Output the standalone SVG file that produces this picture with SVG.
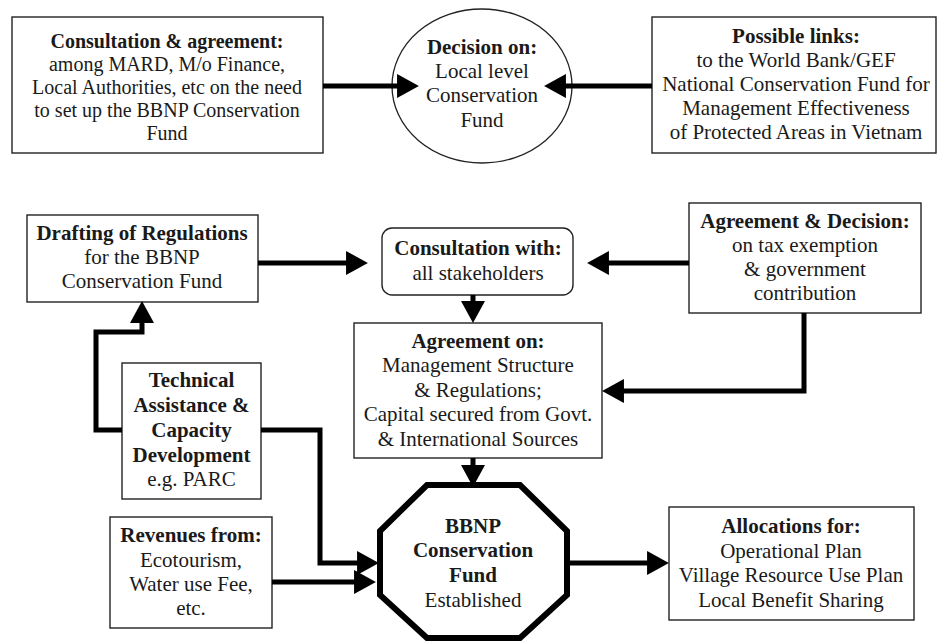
<svg xmlns="http://www.w3.org/2000/svg" width="939" height="641" viewBox="0 0 939 641">
<defs>
<style>
.box{fill:#fff;stroke:#222;stroke-width:1.4}
.t{font-family:"Liberation Serif","Times New Roman",serif;font-size:21px;fill:#1a1a1a;text-anchor:middle}
.s{font-size:20px}
.b{font-weight:bold}
.c{fill:none;stroke:#000;stroke-width:5;marker-end:url(#ah)}
</style>
<marker id="ah" markerUnits="userSpaceOnUse" markerWidth="22" markerHeight="24" viewBox="0 0 20 22" refX="10" refY="11" orient="auto">
<path d="M0,0 L20,11 L0,22 Z" fill="#000"/>
</marker>
</defs>
<rect width="939" height="641" fill="#fff"/>
<g id="consultation-agreement">
<rect class="box" x="12" y="17" width="311" height="136"/>
<text class="t s b" x="167" y="48">Consultation &amp; agreement:</text>
<text class="t s" x="167" y="71">among MARD, M/o Finance,</text>
<text class="t s" x="167" y="94">Local Authorities, etc on the need</text>
<text class="t s" x="167" y="117">to set up the BBNP Conservation</text>
<text class="t s" x="167" y="140">Fund</text>
</g>
<g id="decision">
<ellipse cx="482" cy="86" rx="90" ry="77" fill="#fff" stroke="#222" stroke-width="1.3"/>
<text class="t b" x="482" y="54">Decision on:</text>
<text class="t" x="482" y="78">Local level</text>
<text class="t" x="482" y="102">Conservation</text>
<text class="t" x="482" y="127">Fund</text>
</g>
<g id="possible-links">
<rect class="box" x="652" y="17" width="284" height="136"/>
<text class="t b" x="796" y="43">Possible links:</text>
<text class="t" x="796" y="67">to the World Bank/GEF</text>
<text class="t" x="796" y="91">National Conservation Fund for</text>
<text class="t" x="796" y="115">Management Effectiveness</text>
<text class="t" x="796" y="139">of Protected Areas in Vietnam</text>
</g>
<g id="drafting">
<rect class="box" x="27" y="215" width="231" height="87"/>
<text class="t b" x="142" y="240">Drafting of Regulations</text>
<text class="t" x="142" y="264">for the BBNP</text>
<text class="t" x="142" y="288">Conservation Fund</text>
</g>
<g id="consultation-with">
<rect class="box" x="382" y="228" width="191" height="67" rx="10"/>
<text class="t b" x="478" y="255">Consultation with:</text>
<text class="t" x="478" y="280">all stakeholders</text>
</g>
<g id="agreement-decision">
<rect class="box" x="689" y="203" width="232" height="110"/>
<text class="t b" x="805" y="228">Agreement &amp; Decision:</text>
<text class="t" x="805" y="252">on tax exemption</text>
<text class="t" x="805" y="276">&amp; government</text>
<text class="t" x="805" y="300">contribution</text>
</g>
<g id="agreement-on">
<rect class="box" x="354" y="323" width="248" height="135"/>
<text class="t b" x="478" y="348">Agreement on:</text>
<text class="t" x="478" y="372">Management Structure</text>
<text class="t" x="478" y="397">&amp; Regulations;</text>
<text class="t" x="478" y="421">Capital secured from Govt.</text>
<text class="t" x="478" y="446">&amp; International Sources</text>
</g>
<g id="technical-assistance">
<rect class="box" x="122" y="363" width="139" height="136"/>
<text class="t b" x="191.5" y="387">Technical</text>
<text class="t b" x="191.5" y="412">Assistance &amp;</text>
<text class="t b" x="191.5" y="437">Capacity</text>
<text class="t b" x="191.5" y="462">Development</text>
<text class="t" x="191.5" y="486">e.g. PARC</text>
</g>
<g id="revenues">
<rect class="box" x="110" y="517" width="162" height="111"/>
<text class="t b" x="191" y="542">Revenues from:</text>
<text class="t" x="191" y="567">Ecotourism,</text>
<text class="t" x="191" y="591">Water use Fee,</text>
<text class="t" x="191" y="615">etc.</text>
</g>
<g id="fund">
<polygon points="427,485 520,485 567,531 567,595 520,638 427,638 380,595 380,531" fill="#fff" stroke="#000" stroke-width="6" stroke-linejoin="miter"/>
<text class="t b" x="473" y="533">BBNP</text>
<text class="t b" x="473" y="557">Conservation</text>
<text class="t b" x="473" y="582">Fund</text>
<text class="t" x="473" y="607">Established</text>
</g>
<g id="allocations">
<rect class="box" x="669" y="507" width="245" height="113"/>
<text class="t b" x="791" y="533">Allocations for:</text>
<text class="t" x="791" y="558">Operational Plan</text>
<text class="t" x="791" y="582">Village Resource Use Plan</text>
<text class="t" x="791" y="607">Local Benefit Sharing</text>
</g>
<g id="connectors">
<path class="c" d="M323,86 H408"/>
<path class="c" d="M652,86 H555"/>
<path class="c" d="M258,263 H357"/>
<path class="c" d="M689,263 H598"/>
<path class="c" d="M473,295 V312"/>
<path class="c" d="M804,313 V391 H613"/>
<path class="c" d="M122,430 H96 V332 H142 V312"/>
<path class="c" d="M261,430 H320 V563 H368"/>
<path class="c" d="M272,582 H365"/>
<path class="c" d="M473,458 V476"/>
<path class="c" d="M567,563 H658"/>
</g>
</svg>
